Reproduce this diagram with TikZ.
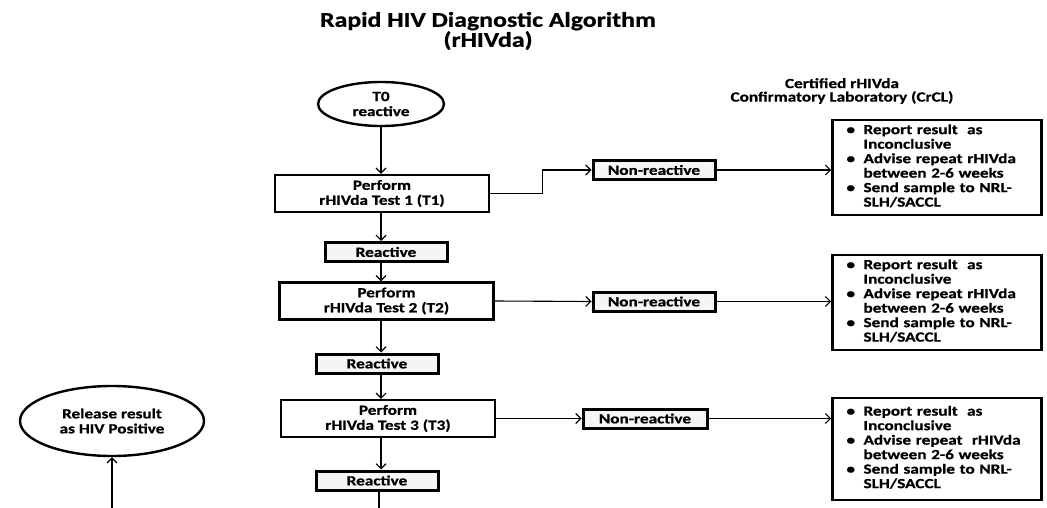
\documentclass[tikz,border=0pt]{standalone}
\usepackage{fontspec}
\setmainfont{Carlito}[FakeStretch=1.23, BoldFeatures={FakeBold=0.8}]
\usetikzlibrary{shapes.geometric,arrows.meta,calc}
\begin{document}
\begin{tikzpicture}[x=1pt,y=-1pt,
  every node/.style={font=\fontsize{14}{15}\selectfont\bfseries, inner sep=0pt},
  testbox/.style={draw, line width=2.4pt, minimum width=214pt, minimum height=37pt, align=center},
  resbox/.style={draw, line width=3pt, fill=gray!8, minimum width=122pt, minimum height=19pt},
  oval/.style={draw, ellipse, line width=2.4pt, align=center},
  labbox/.style={draw, line width=2.6pt, align=left, text width=181pt, inner xsep=14pt,
     font=\fontsize{14}{14.5}\selectfont\bfseries},
  arr/.style={line width=1.1pt, -{Straight Barb[length=5pt,width=10pt]}},
  conn/.style={line width=1.1pt}]
\useasboundingbox (0,0) rectangle (1047,508);

\node[font=\fontsize{21}{20}\selectfont\bfseries, align=center] (title) at (488,31) {Rapid HIV Diagnostic Algorithm\\(rHIVda)};
\node[font=\fontsize{14}{13.5}\selectfont\bfseries, align=center] (hdr) at (842,91) {Certified rHIVda\\Confirmatory Laboratory (CrCL)};

\node[oval, minimum width=126pt, minimum height=44pt] (t0) at (381,104) {T0\\reactive};
\node[testbox] (t1) at (382,193.5) {Perform\\rHIVda Test 1 (T1)};
\node[resbox] (r1) at (386,252) {Reactive};
\node[testbox] (t2) at (386.5,301) {Perform\\rHIVda Test 2 (T2)};
\node[resbox] (r2) at (377,363.5) {Reactive};
\node[testbox] (t3) at (388,418.5) {Perform\\rHIVda Test 3 (T3)};
\node[resbox] (r3) at (377,480.5) {Reactive};

\node[resbox] (nr1) at (654,170) {Non-reactive};
\node[resbox] (nr2) at (654,301.5) {Non-reactive};
\node[resbox, minimum width=124pt] (nr3) at (645,418.5) {Non-reactive};

\node[labbox, minimum height=95pt] (c1) at (937,167.5) {\begin{tabular}{@{}p{17pt}@{}l@{}}\textbullet & Report result\ \ as\\ & Inconclusive\\ \textbullet & Advise repeat rHIVda\\ & between 2-6 weeks\\ \textbullet & Send sample to NRL-\\ & SLH/SACCL\end{tabular}};
\node[labbox, minimum height=95pt] (c2) at (937,302.5) {\begin{tabular}{@{}p{17pt}@{}l@{}}\textbullet & Report result\ \ as\\ & Inconclusive\\ \textbullet & Advise repeat rHIVda\\ & between 2-6 weeks\\ \textbullet & Send sample to NRL-\\ & SLH/SACCL\end{tabular}};
\node[labbox, minimum height=102pt] (c3) at (937,449) {\begin{tabular}{@{}p{17pt}@{}l@{}}\textbullet & Report result\ \ as\\ & Inconclusive\\ \textbullet & Advise repeat\ \ rHIVda\\ & between 2-6 weeks\\ \textbullet & Send sample to NRL-\\ & SLH/SACCL\end{tabular}};

\node[oval, minimum width=184pt, minimum height=70pt] (pos) at (112,421) {Release result\\as HIV Positive};

\coordinate (col) at (381,0);
\coordinate (bot) at (379,508);
\coordinate (pbot) at (112,508);

\draw[arr] (t0.south -| col) -- (t1.north -| col);
\draw[arr] (t1.south -| col) -- (r1.north -| col);
\draw[arr] (r1.south -| col) -- (t2.north -| col);
\draw[arr] (t2.south -| col) -- (r2.north -| col);
\draw[arr] (r2.south -| col) -- (t3.north -| col);
\draw[arr] (t3.south -| col) -- (r3.north -| col);
\draw[conn] (r3.south -| bot) -- (bot);
\draw[arr] (pbot) -- (pos.south);

\draw[arr] (t1.east) -- ++(52,0) |- (nr1.west);
\draw[arr] (nr1.east) -- (nr1.east -| c1.west);
\draw[arr] (t2.east) -- (nr2.west);
\draw[arr] (nr2.east) -- (nr2.east -| c2.west);
\draw[arr] (t3.east) -- (nr3.west);
\draw[arr] (nr3.east) -- (nr3.east -| c3.west);
\end{tikzpicture}
\end{document}
